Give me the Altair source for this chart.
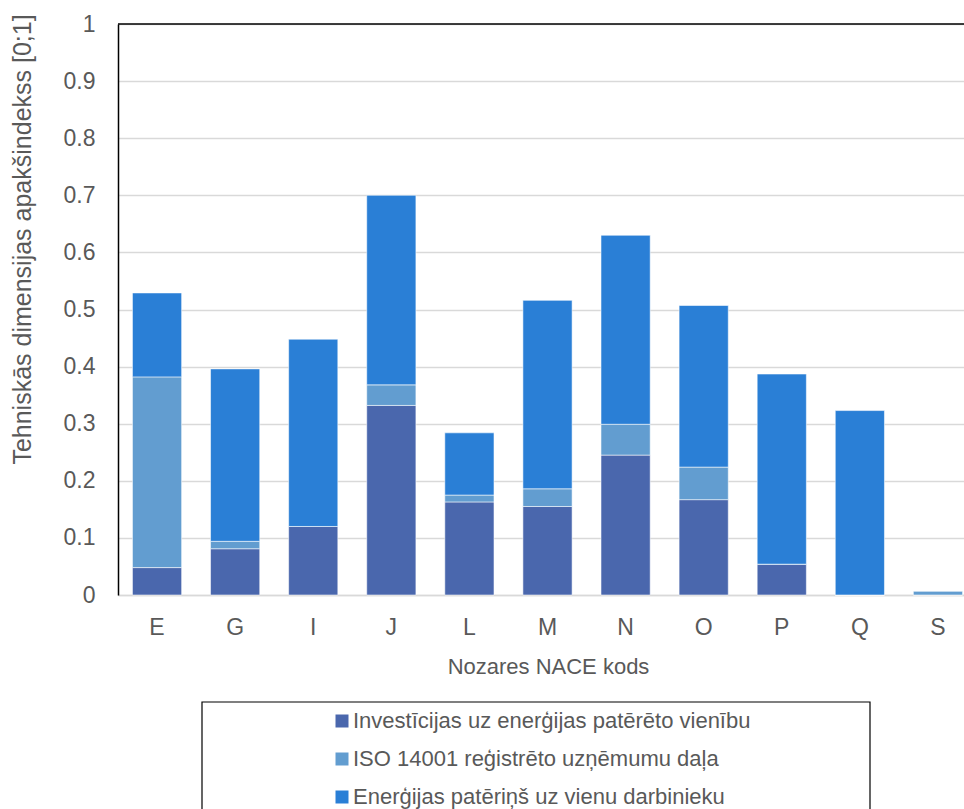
import altair as alt
import pandas as pd

# NACE sectors on the x axis
sectors = ["E", "G", "I", "J", "L", "M", "N", "O", "P", "Q", "S"]

# Sub-index components, stacked bottom to top
investment = [0.048, 0.081, 0.120, 0.332, 0.163, 0.155, 0.245, 0.167, 0.054, 0.0, 0.0]
iso_share = [0.334, 0.013, 0.0, 0.036, 0.012, 0.031, 0.054, 0.057, 0.0, 0.0, 0.007]
energy = [0.147, 0.302, 0.328, 0.332, 0.109, 0.330, 0.331, 0.283, 0.333, 0.323, 0.0]

series_names = [
    "Investīcijas uz enerģijas patērēto vienību",
    "ISO 14001 reģistrēto uzņēmumu daļa",
    "Enerģijas patēriņš uz vienu darbinieku",
]
series_colors = ["#4a67ad", "#629dd0", "#2a7fd6"]
y_ticks = [0, 0.1, 0.2, 0.3, 0.4, 0.5, 0.6, 0.7, 0.8, 0.9, 1.0]

rows = []
for i, s in enumerate(sectors):
    for k, vals in enumerate([investment, iso_share, energy]):
        rows.append({"sector": s, "series": series_names[k], "order": k, "value": vals[i]})
df = pd.DataFrame(rows)

FONT = "Liberation Sans"
GREY = "#595959"
W, H = 846, 571
BAND_RANGE = 859

bars = alt.Chart(df).mark_bar(
    stroke="#ffffff", strokeWidth=1, strokeOpacity=0.55
).encode(
    x=alt.X(
        "sector:N",
        sort=sectors,
        scale=alt.Scale(range=[0, BAND_RANGE], paddingInner=0.37, paddingOuter=0.185),
        axis=alt.Axis(
            title="Nozares NACE kods",
            labelAngle=0,
            labelFontSize=23,
            labelColor=GREY,
            labelPadding=21,
            labelFont=FONT,
            ticks=False,
            domainColor="#d9d9d9",
            domainWidth=1.5,
            titleFont=FONT,
            titleFontSize=22,
            titleFontWeight="normal",
            titleColor=GREY,
            titleX=430,
            titleY=71,
            titleBaseline="middle",
        ),
    ),
    y=alt.Y(
        "value:Q",
        stack="zero",
        scale=alt.Scale(domain=[0, 1], nice=False),
        axis=alt.Axis(
            title="Tehniskās dimensijas apakšindekss [0;1]",
            values=y_ticks,
            format=".1~f",
            labelFontSize=23,
            labelColor=GREY,
            labelFont=FONT,
            labelPadding=23,
            ticks=False,
            domainColor="#000000",
            domainWidth=1.5,
            gridColor="#d9d9d9",
            gridWidth=1.5,
            titleFont=FONT,
            titleFontSize=25,
            titleFontWeight="normal",
            titleColor=GREY,
            titleX=-96,
            titleY=215,
            titleBaseline="middle",
        ),
    ),
    color=alt.Color(
        "series:N",
        sort=series_names,
        scale=alt.Scale(domain=series_names, range=series_colors),
        legend=alt.Legend(
            title=None,
            orient="none",
            legendX=213,
            legendY=686,
            symbolType="square",
            symbolSize=169,
            symbolStrokeWidth=0,
            labelFont=FONT,
            labelFontSize=22,
            labelColor=GREY,
            labelOffset=0,
            rowPadding=16,
            labelLimit=600,
        ),
    ),
    order=alt.Order("order:Q"),
)

one = pd.DataFrame({"k": [0]})

# Upper edge of the plot frame
top_edge = alt.Chart(one).mark_rule(color="#000000", strokeWidth=1.5).encode(
    x=alt.value(0), x2=alt.value(BAND_RANGE), y=alt.value(0)
)

# Frame around the legend
legend_box = alt.Chart(one).mark_rect(
    fill=None, stroke="#000000", strokeWidth=1.2
).encode(
    x=alt.value(84), x2=alt.value(752), y=alt.value(678), y2=alt.value(830)
)

chart = alt.layer(bars, top_edge, legend_box).properties(
    width=W,
    height=H,
    autosize=alt.AutoSizeParams(type="none"),
    padding={"left": 118, "top": 24, "right": 0, "bottom": 214},
).configure_view(stroke=None).configure(background="#ffffff")

chart.save("out.html", embed_options={"renderer": "svg", "actions": False})
